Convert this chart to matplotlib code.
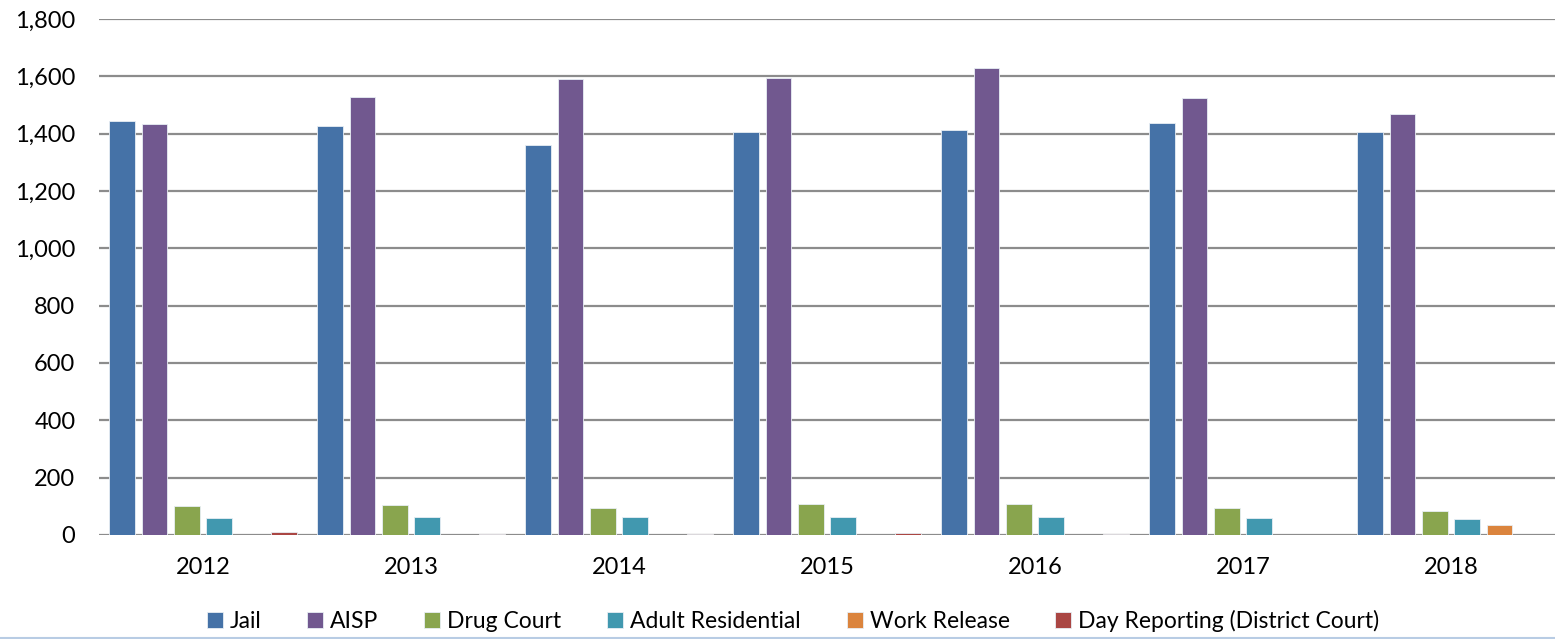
import numpy as np
import matplotlib.pyplot as plt
from matplotlib.lines import Line2D

years = ["2012", "2013", "2014", "2015", "2016", "2017", "2018"]
series_names = ["Jail", "AISP", "Drug Court", "Adult Residential",
                "Work Release", "Day Reporting (District Court)"]
jail = [1443, 1426, 1359, 1405, 1414, 1437, 1404]
aisp = [1432, 1527, 1592, 1594, 1628, 1525, 1467]
drug_court = [100, 103, 94, 107, 107, 94, 82]
adult_residential = [59, 63, 61, 61, 61, 58, 54]
work_release = [0, 0, 0, 0, 0, 0, 36]
day_reporting = [11, 4, 4, 8, 2, 0, 0]

colors = ["#4572A7", "#71588F", "#89A54E", "#4198AF", "#DB843D", "#AA4643"]
all_series = [jail, aisp, drug_court, adult_residential, work_release, day_reporting]

fig = plt.figure(figsize=(15.55, 6.39), dpi=100)
ax = fig.add_axes([0.0637, 0.1628, 0.9363, 0.8075])

x = np.arange(len(years))
pitch = 0.1555
width = 0.124
for i, (name, vals, col) in enumerate(zip(series_names, all_series, colors)):
    ax.bar(x + (i - 2.5) * pitch, vals, width, color=col, label=name,
           edgecolor="#e8eef4", linewidth=0.6, zorder=3)

ax.set_xlim(-0.5, 6.5)
ax.set_ylim(0, 1800)
ax.set_yticks(range(0, 1801, 200))
ax.set_yticklabels([f"{v:,}" for v in range(0, 1801, 200)])
ax.set_xticks(x)
ax.set_xticklabels(years)
ax.yaxis.grid(True, color="#8c8c8c", linewidth=1.6, zorder=0)
ax.tick_params(axis="both", length=0, labelsize=17, colors="#000000")
ax.tick_params(axis="x", pad=16)
ax.tick_params(axis="y", pad=17)
for s in ax.spines.values():
    s.set_visible(False)
for lbl in ax.get_yticklabels() + ax.get_xticklabels():
    lbl.set_fontfamily("Lato")

leg = fig.legend(loc="lower center", bbox_to_anchor=(0.51, -0.022), ncol=6,
                 frameon=False, prop={"family": "Lato", "size": 16.5},
                 handlelength=0.7, handleheight=0.7, handletextpad=0.3,
                 columnspacing=2.0)

# thin light-blue rule along the bottom edge
fig.add_artist(Line2D([0, 1], [0.002, 0.002], transform=fig.transFigure,
                      color="#b8cce4", linewidth=1.5))

fig.savefig("out.png", dpi=100)
